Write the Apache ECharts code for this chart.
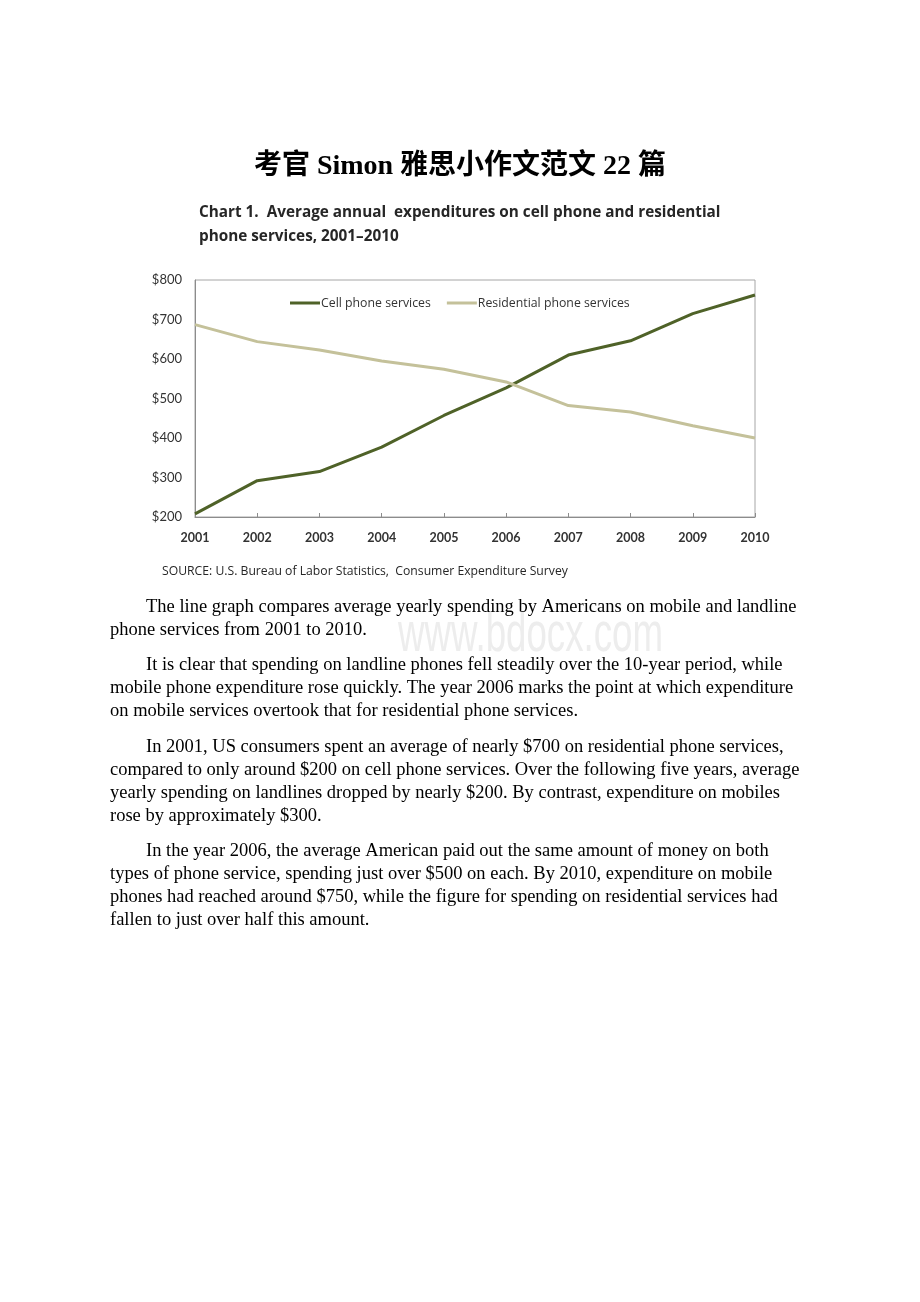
<!DOCTYPE html>
<html>
<head>
<meta charset="utf-8">
<script src="https://cdn.jsdelivr.net/npm/echarts@6/dist/echarts.min.js"></script>
<style>
html,body{margin:0;padding:0;background:#fff;}
#c{width:920px;height:1302px;}
</style>
</head>
<body>
<div id="c"></div>
<script>
const years = ['2001','2002','2003','2004','2005','2006','2007','2008','2009','2010'];
const cellPhone = [208, 292, 315, 377, 457, 527, 610, 646, 715, 762];
const residential = [687, 644, 623, 595, 574, 542, 482, 466, 431, 400];
const yTicks = [200, 300, 400, 500, 600, 700, 800];

const pageTitle = '考官 Simon 雅思小作文范文 22 篇';
const chartTitleLines = ['Chart 1.  Average annual  expenditures on cell phone and residential', 'phone services, 2001\u20132010'];
const sourceText = 'SOURCE: U.S. Bureau of Labor Statistics,  Consumer Expenditure Survey';
const paragraphs = [
  ['The line graph compares average yearly spending by Americans on mobile and landline',
   'phone services from 2001 to 2010.'],
  ['It is clear that spending on landline phones fell steadily over the 10-year period, while',
   'mobile phone expenditure rose quickly. The year 2006 marks the point at which expenditure',
   'on mobile services overtook that for residential phone services.'],
  ['In 2001, US consumers spent an average of nearly $700 on residential phone services,',
   'compared to only around $200 on cell phone services. Over the following five years, average',
   'yearly spending on landlines dropped by nearly $200. By contrast, expenditure on mobiles',
   'rose by approximately $300.'],
  ['In the year 2006, the average American paid out the same amount of money on both',
   'types of phone service, spending just over $500 on each. By 2010, expenditure on mobile',
   'phones had reached around $750, while the figure for spending on residential services had',
   'fallen to just over half this amount.']
];
const paraTops = [606, 664, 746, 850];

const chart = echarts.init(document.getElementById('c'), null, {renderer: 'canvas'});

const graphics = [];
graphics.push({type:'text', left:'center', top:153, z:10,
  style:{text:pageTitle, font:'bold 28px "Liberation Serif", "Noto Sans CJK SC", serif', fill:'#000'}});
chartTitleLines.forEach((t,i)=>{
  graphics.push({type:'text', left:199, top:205 + i*24, z:10,
    style:{text:t, font:'bold 15.3px "Open Sans", sans-serif', fill:'#262626'}});
});
graphics.push({type:'text', left:162, top:566, z:10,
  style:{text:sourceText, font:'12.2px "Open Sans", sans-serif', fill:'#262626'}});
graphics.push({type:'text', x:398, y:608, scaleX:0.667, z:1,
  style:{text:'www.bdocx.com', font:'55px "Liberation Sans", sans-serif', fill:'#ededed'}});
paragraphs.forEach((p,pi)=>{
  p.forEach((line,li)=>{
    graphics.push({type:'text', left: li===0 ? 146 : 110, top: paraTops[pi] - 8 + li*23, z:10,
      style:{text:line, font:'18.5px "Liberation Serif", serif', fill:'#000'}});
  });
});

chart.setOption({
  animation:false,
  backgroundColor:'#fff',
  grid:{left:195, right:165, top:280, bottom:785, show:true, borderColor:'#a6a6a6', borderWidth:1},
  legend:{
    left:285, top:292, itemWidth:30, itemHeight:3, itemGap:16, icon:'rect',
    textStyle:{fontFamily:'"Open Sans", sans-serif', fontSize:12.3, color:'#333', padding:[0,0,0,-4]},
    data:['Cell phone services','Residential phone services']
  },
  xAxis:{
    type:'category', data:years, boundaryGap:false,
    axisLine:{lineStyle:{color:'#8c8c8c'}},
    axisTick:{show:true, inside:true, length:4, lineStyle:{color:'#8c8c8c'}},
    axisLabel:{fontFamily:'Lato, sans-serif', fontSize:12.5, color:'#333', margin:14, fontWeight:'bold'}
  },
  yAxis:{
    type:'value', min:200, max:800, interval:100,
    axisLine:{show:true, lineStyle:{color:'#8c8c8c'}},
    axisTick:{show:false},
    splitLine:{show:false},
    axisLabel:{fontFamily:'Lato, sans-serif', fontSize:13, color:'#333', margin:13,
      formatter:v=>'$'+v}
  },
  series:[
    {name:'Cell phone services', type:'line', data:cellPhone, symbol:'none',
     lineStyle:{color:'#4f6228', width:3}, itemStyle:{color:'#4f6228'}},
    {name:'Residential phone services', type:'line', data:residential, symbol:'none',
     lineStyle:{color:'#c4c19a', width:3}, itemStyle:{color:'#c4c19a'}}
  ],
  graphic:graphics
});
</script>
</body>
</html>
